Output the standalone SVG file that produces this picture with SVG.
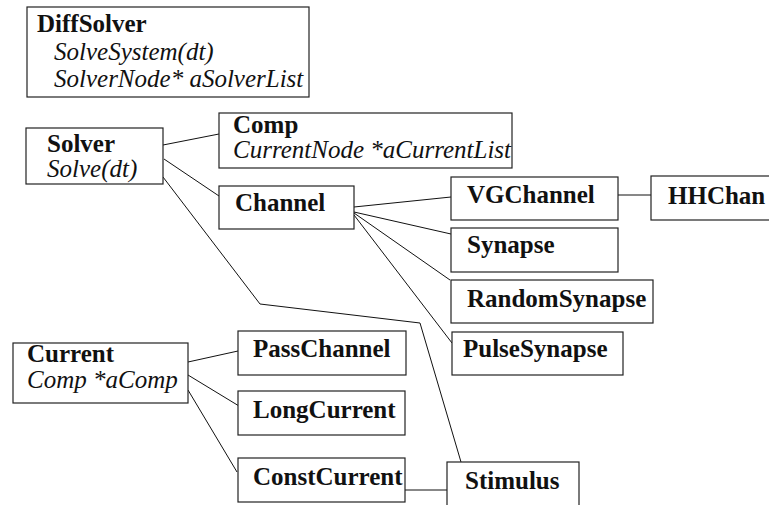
<svg xmlns="http://www.w3.org/2000/svg" width="769" height="505" viewBox="0 0 769 505">
<style>
rect{fill:#fff;stroke:#222;stroke-width:1.2}
.c{fill:none;stroke:#111;stroke-width:1}
text{font-family:"Liberation Serif","Times New Roman",serif;font-size:25px;fill:#111}
.b{font-weight:bold}
.i{font-style:italic}
</style>
<rect x="0" y="0" width="769" height="505" style="stroke:none"/>
<g id="connectors">
<line class="c" x1="163" y1="145" x2="219" y2="134"/>
<line class="c" x1="164" y1="159" x2="219" y2="196"/>
<polyline class="c" points="163,177 260,304 420,323 461,462"/>
<line class="c" x1="354" y1="207" x2="451" y2="197"/>
<line class="c" x1="354" y1="212" x2="451" y2="234"/>
<line class="c" x1="354" y1="213" x2="450" y2="280"/>
<line class="c" x1="354" y1="215" x2="452" y2="343"/>
<line class="c" x1="618" y1="195" x2="651" y2="195"/>
<line class="c" x1="188" y1="362" x2="238" y2="351"/>
<line class="c" x1="188" y1="375" x2="239" y2="406"/>
<line class="c" x1="188" y1="390" x2="237" y2="472"/>
<line class="c" x1="405" y1="490" x2="447" y2="490"/>
</g>
<g id="DiffSolver">
<rect x="27" y="7" width="282" height="90"/>
<text class="b" x="37" y="32">DiffSolver</text>
<text class="i" x="54" y="60">SolveSystem(dt)</text>
<text class="i" x="54" y="87">SolverNode* aSolverList</text>
</g>
<g id="Solver">
<rect x="26" y="128" width="137" height="56"/>
<text class="b" x="47" y="152">Solver</text>
<text class="i" x="47" y="177">Solve(dt)</text>
</g>
<g id="Comp">
<rect x="219" y="113" width="293" height="55"/>
<text class="b" x="233" y="133">Comp</text>
<text class="i" x="233" y="158">CurrentNode *aCurrentList</text>
</g>
<g id="Channel">
<rect x="219" y="186" width="135" height="43"/>
<text class="b" x="235" y="211">Channel</text>
</g>
<g id="VGChannel">
<rect x="451" y="177" width="167" height="43"/>
<text class="b" x="467" y="203">VGChannel</text>
</g>
<g id="HHChan">
<rect x="651" y="176" width="130" height="44"/>
<text class="b" x="668" y="204">HHChan</text>
</g>
<g id="Synapse">
<rect x="451" y="228" width="167" height="44"/>
<text class="b" x="467" y="253">Synapse</text>
</g>
<g id="RandomSynapse">
<rect x="451" y="280" width="202" height="43"/>
<text class="b" x="467" y="307">RandomSynapse</text>
</g>
<g id="PulseSynapse">
<rect x="452" y="332" width="171" height="43"/>
<text class="b" x="463" y="357">PulseSynapse</text>
</g>
<g id="Current">
<rect x="13" y="343" width="175" height="60"/>
<text class="b" x="27" y="362">Current</text>
<text class="i" x="27" y="388">Comp *aComp</text>
</g>
<g id="PassChannel">
<rect x="238" y="331" width="168" height="44"/>
<text class="b" x="253" y="357">PassChannel</text>
</g>
<g id="LongCurrent">
<rect x="238" y="391" width="167" height="44"/>
<text class="b" x="253" y="418">LongCurrent</text>
</g>
<g id="ConstCurrent">
<rect x="238" y="458" width="167" height="44"/>
<text class="b" x="253" y="485">ConstCurrent</text>
</g>
<g id="Stimulus">
<rect x="447" y="462" width="132" height="50"/>
<text class="b" x="465" y="489">Stimulus</text>
</g>
</svg>
